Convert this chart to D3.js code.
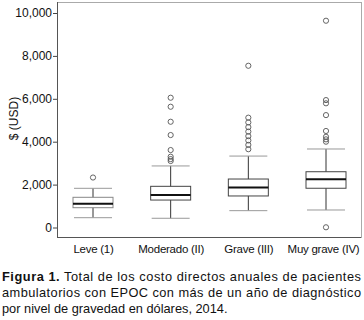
<!DOCTYPE html>
<html><head><meta charset="utf-8">
<script src="https://cdn.jsdelivr.net/npm/d3@7"></script>
<style>body{margin:0;background:#fff}svg{display:block}text{font-family:"Liberation Sans",Arial,Helvetica,sans-serif}</style>
</head><body><svg id="c" width="364" height="320"></svg>
<script>
const categories = ["Leve (1)", "Moderado (II)", "Grave (III)", "Muy grave (IV)"];
// [lower whisker, Q1, median, Q3, upper whisker]
const boxStats = [
  [457, 923, 1110, 1408, 1827],
  [430, 1280, 1515, 1920, 2870],
  [785, 1470, 1860, 2260, 3330],
  [816, 1830, 2250, 2600, 3660]
];
const outliers = [
  [2330],
  [6050, 5630, 4930, 4310, 3610, 3300, 3190, 3100],
  [7540, 5120, 4900, 4680, 4470, 4260, 4060, 3850, 3650],
  [9640, 5940, 5790, 5240, 4500, 4230, 4110, 4000, 10]
];
const yTicks = [0, 2000, 4000, 6000, 8000, 10000];
const yLabel = "$ (USD)";
const captionBold = "Figura 1.";
const captionLines = [
  " Total de los costo directos anuales de pacientes",
  "ambulatorios con EPOC con más de un año de diagnóstico",
  "por nivel de gravedad en dólares, 2014."
];

const svg = d3.select("#c");
const L = 57, R = 361.5, T = 2, B = 237;
const x = d3.scalePoint().domain(categories).range([93, 326]);
const y = d3.scaleLinear().domain([0, 10000]).range([227.5, 13]);
const bw = 40;

// frame
svg.append("line").attr("x1", L).attr("x2", R).attr("y1", T+0.5).attr("y2", T+0.5).attr("stroke", "#aaa");
svg.append("line").attr("x1", R).attr("x2", R).attr("y1", T).attr("y2", B).attr("stroke", "#aaa");

// y axis
const ya = svg.append("g").attr("transform", `translate(${L},0)`)
  .call(d3.axisLeft(y).tickValues(yTicks).tickSize(4).tickSizeOuter(0).tickFormat(d3.format(",")));
ya.select(".domain").remove();
ya.selectAll(".tick line").attr("stroke", "#444");
ya.selectAll(".tick text").attr("font-size", 12).attr("fill", "#111").attr("x", -5)
  .attr("font-family", '"Liberation Sans",Arial,sans-serif');
svg.append("line").attr("x1", L+0.5).attr("x2", L+0.5).attr("y1", T).attr("y2", B+0.5).attr("stroke", "#555");
svg.append("line").attr("x1", L).attr("x2", R).attr("y1", B+0.5).attr("y2", B+0.5).attr("stroke", "#555");

svg.append("text").attr("transform", `translate(18,${(T+B)/2 - 1}) rotate(-90)`)
  .attr("text-anchor", "middle").attr("font-size", 12).attr("fill", "#111").text(yLabel);

// x axis labels
const xa = svg.append("g").attr("transform", `translate(0,${B})`)
  .call(d3.axisBottom(x).tickSize(0).tickPadding(8));
xa.select(".domain").remove();
xa.selectAll(".tick text").attr("font-size", 11.5).attr("fill", "#111").attr("letter-spacing", -0.25)
  .attr("font-family", '"Liberation Sans",Arial,sans-serif');
xa.selectAll(".tick").filter(d => d === categories[3]).select("text").attr("dx", -3);

// boxes
categories.forEach((c, i) => {
  const s = boxStats[i], cx = x(c);
  const g = svg.append("g");
  g.append("line").attr("x1", cx).attr("x2", cx).attr("y1", y(s[0])).attr("y2", y(s[1])).attr("stroke", "#333");
  g.append("line").attr("x1", cx).attr("x2", cx).attr("y1", y(s[3])).attr("y2", y(s[4])).attr("stroke", "#333");
  g.append("line").attr("x1", cx - bw/2 + 1).attr("x2", cx + bw/2 - 1).attr("y1", y(s[0])).attr("y2", y(s[0])).attr("stroke", "#999");
  g.append("line").attr("x1", cx - bw/2 + 1).attr("x2", cx + bw/2 - 1).attr("y1", y(s[4])).attr("y2", y(s[4])).attr("stroke", "#999");
  g.append("rect").attr("x", cx - bw/2).attr("width", bw).attr("y", y(s[3])).attr("height", y(s[1]) - y(s[3]))
    .attr("fill", "none").attr("stroke", i === 0 ? "#888" : "#444");
  g.append("line").attr("x1", cx - bw/2).attr("x2", cx + bw/2).attr("y1", y(s[2])).attr("y2", y(s[2]))
    .attr("stroke", "#111").attr("stroke-width", 2);
  g.selectAll("circle").data(outliers[i]).join("circle")
    .attr("cx", cx).attr("cy", d => y(d)).attr("r", 2.6)
    .attr("fill", "none").attr("stroke", "#555").attr("stroke-width", 0.9);
});

// caption
const cap = svg.append("g").attr("font-size", 12.8).attr("fill", "#111");
const t1 = cap.append("text").attr("x", 2).attr("y", 281).attr("textLength", 359).attr("lengthAdjust", "spacing");
t1.append("tspan").attr("font-weight", "bold").text(captionBold);
t1.append("tspan").text(captionLines[0]);
cap.append("text").attr("x", 2).attr("y", 297).attr("textLength", 359).attr("lengthAdjust", "spacing").text(captionLines[1]);
cap.append("text").attr("x", 2).attr("y", 313).text(captionLines[2]);
</script></body></html>
